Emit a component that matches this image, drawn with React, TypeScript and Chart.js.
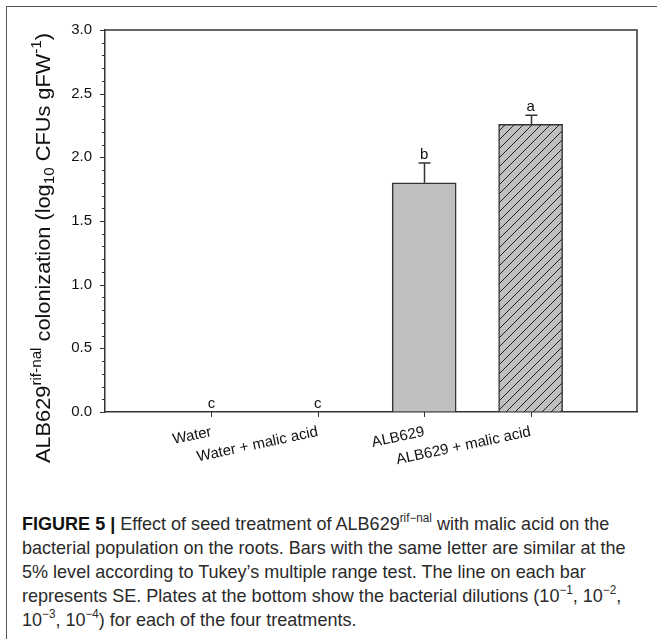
import React, { useEffect, useRef } from 'react';
import { Chart, registerables } from 'chart.js';

Chart.register(...registerables);

// ---- data ----
const categories = ['Water', 'Water + malic acid', 'ALB629', 'ALB629 + malic acid'];
const means = [0, 0, 1.8, 2.26];
const errors = [0, 0, 0.155, 0.07];
const letters = ['c', 'c', 'b', 'a'];
const hatched = [false, false, false, true];
const yMin = 0;
const yMax = 3;
const yMinorStep = 0.1;
const yMajorStep = 0.5;
const titleParts = [
  { t: 'ALB629', k: 'n' },
  { t: 'rif-nal', k: 'sup' },
  { t: ' colonization (log', k: 'n' },
  { t: '10', k: 'sub' },
  { t: ' CFUs gFW', k: 'n' },
  { t: '-1', k: 'sup' },
  { t: ')', k: 'n' },
];

// ---- style ----
const AXIS = '#333';
const TEXT = '#111';
const BAR_FILL = '#c0c0c0';
const FONT = '"Liberation Sans", Arial, sans-serif';
const CW = 657;
const CH = 500;
const TITLE_START = 463;
const TITLE_END = 33;

const isMajor = (v: number) => Math.abs(v / yMajorStep - Math.round(v / yMajorStep)) < 1e-6;

function makeHatch(): CanvasPattern | string {
  const s = 9;
  const c = document.createElement('canvas');
  c.width = s;
  c.height = s;
  const g = c.getContext('2d');
  if (!g) return BAR_FILL;
  g.fillStyle = BAR_FILL;
  g.fillRect(0, 0, s, s);
  g.strokeStyle = '#222';
  g.lineWidth = 1;
  g.beginPath();
  g.moveTo(0, s);
  g.lineTo(s, 0);
  g.moveTo(-1, 1);
  g.lineTo(1, -1);
  g.moveTo(s - 1, s + 1);
  g.lineTo(s + 1, s - 1);
  g.stroke();
  const p = g.createPattern(c, 'repeat');
  return p || BAR_FILL;
}

const partFont = (k: string) => (k !== 'n' ? '14px ' : '20px ') + FONT;

const decorPlugin = {
  id: 'decor',
  afterDraw(chart: any) {
    const { ctx, chartArea: a, scales } = chart;
    const xs = scales.x;
    const ys = scales.y;
    ctx.save();
    // frame top & right
    ctx.strokeStyle = AXIS;
    ctx.lineWidth = 1.5;
    ctx.beginPath();
    ctx.moveTo(a.left, a.top);
    ctx.lineTo(a.right, a.top);
    ctx.lineTo(a.right, a.bottom);
    ctx.stroke();

    // y ticks (major / minor)
    ctx.lineWidth = 1;
    ys.ticks.forEach((t: any) => {
      const len = isMajor(t.value) ? 5 : 3;
      const py = Math.round(ys.getPixelForValue(t.value)) + 0.5;
      ctx.beginPath();
      ctx.moveTo(a.left - len, py);
      ctx.lineTo(a.left, py);
      ctx.stroke();
    });
    // x ticks
    xs.ticks.forEach((t: any) => {
      const px = Math.round(xs.getPixelForValue(t.value)) + 0.5;
      ctx.beginPath();
      ctx.moveTo(px, a.bottom);
      ctx.lineTo(px, a.bottom + 5);
      ctx.stroke();
    });

    // error bars and letters
    const meta = chart.getDatasetMeta(0);
    ctx.font = '15px ' + FONT;
    ctx.fillStyle = TEXT;
    ctx.textAlign = 'center';
    ctx.textBaseline = 'alphabetic';
    meta.data.forEach((bar: any, i: number) => {
      const top = ys.getPixelForValue(means[i] + errors[i]);
      if (errors[i] > 0) {
        const bx = Math.round(bar.x) + 0.5;
        ctx.strokeStyle = AXIS;
        ctx.lineWidth = 1.5;
        ctx.beginPath();
        ctx.moveTo(bx, bar.y);
        ctx.lineTo(bx, top);
        ctx.moveTo(bx - 6, top);
        ctx.lineTo(bx + 6, top);
        ctx.stroke();
      }
      ctx.fillText(letters[i], bar.x, top - 4);
    });

    // y axis title with super/subscripts, fitted to its span
    let total = 0;
    titleParts.forEach((p) => {
      ctx.font = partFont(p.k);
      total += ctx.measureText(p.t).width;
    });
    ctx.save();
    ctx.translate(50, TITLE_START);
    ctx.rotate(-Math.PI / 2);
    ctx.scale((TITLE_START - TITLE_END) / total, 1);
    ctx.textAlign = 'left';
    let cx = 0;
    titleParts.forEach((p) => {
      ctx.font = partFont(p.k);
      const dy = p.k === 'sup' ? -9 : p.k === 'sub' ? 4 : 0;
      ctx.fillText(p.t, cx, dy);
      cx += ctx.measureText(p.t).width;
    });
    ctx.restore();

    ctx.restore();
  },
};

export default function App() {
  const ref = useRef<HTMLCanvasElement>(null);

  useEffect(() => {
    if (!ref.current) return;
    const hatch = makeHatch();
    const chart = new Chart(ref.current, {
      type: 'bar',
      data: {
        datasets: [
          {
            data: means.map((v, i) => ({ x: i + 1, y: v })),
            backgroundColor: hatched.map((h) => (h ? hatch : BAR_FILL)) as any,
            borderColor: AXIS,
            borderWidth: 1.5,
            borderSkipped: 'bottom',
            barThickness: 64,
          },
        ],
      },
      options: {
        responsive: false,
        animation: false,
        devicePixelRatio: 1,
        layout: { padding: { top: 30, right: 20, left: 0, bottom: 0 } },
        plugins: { legend: { display: false }, tooltip: { enabled: false } },
        scales: {
          x: {
            type: 'linear',
            offset: false,
            min: 0,
            max: categories.length + 1,
            afterBuildTicks: (s: any) => {
              s.ticks = categories.map((_, i) => ({ value: i + 1 }));
            },
            afterFit: (s: any) => {
              s.height = CH - 412;
            },
            ticks: {
              autoSkip: false,
              minRotation: 12,
              maxRotation: 12,
              padding: 11,
              color: TEXT,
              font: { family: FONT, size: 15 },
              callback: (v: any) => categories[Number(v) - 1] ?? '',
            },
            grid: { display: true, offset: false, drawOnChartArea: false, drawTicks: false },
            border: { display: true, color: AXIS, width: 1.5 },
          },
          y: {
            min: yMin,
            max: yMax,
            afterFit: (s: any) => {
              s.width = 105;
            },
            ticks: {
              stepSize: yMinorStep,
              autoSkip: false,
              padding: 13,
              color: TEXT,
              font: { family: FONT, size: 15 },
              callback: (v: any) => (isMajor(Number(v)) ? Number(v).toFixed(1) : ''),
            },
            grid: { display: true, drawOnChartArea: false, drawTicks: false },
            border: { display: true, color: AXIS, width: 1.5 },
          },
        },
      },
      plugins: [decorPlugin],
    });
    return () => chart.destroy();
  }, []);

  const sup = { fontSize: '12px', position: 'relative' as const, top: '-0.65em', lineHeight: 0 };

  return (
    <div style={{ position: 'absolute', left: 0, top: 0, width: 657, height: 639, overflow: 'hidden', background: '#fff' }}>
      <div style={{ position: 'absolute', left: 6, top: 6, width: 800, height: 800, borderLeft: '1.5px solid #555', borderTop: '1.5px solid #555' }} />
      <canvas ref={ref} width={CW} height={CH} style={{ position: 'absolute', left: 0, top: 0, width: CW, height: CH }} />
      <div
        style={{
          position: 'absolute',
          left: 22,
          top: 512,
          fontFamily: '"Liberation Sans", Arial, sans-serif',
          fontSize: 18.5,
          lineHeight: '24px',
          color: '#2a2a2a',
          whiteSpace: 'nowrap',
          transform: 'scaleX(0.975)',
          transformOrigin: '0 0',
        }}
      >
        <div>
          <b style={{ color: '#111' }}>FIGURE 5 |</b> Effect of seed treatment of ALB629<span style={sup}>rif−nal</span> with malic acid on the
        </div>
        <div>bacterial population on the roots. Bars with the same letter are similar at the</div>
        <div>5% level according to Tukey’s multiple range test. The line on each bar</div>
        <div>
          represents SE. Plates at the bottom show the bacterial dilutions (10<span style={sup}>−1</span>, 10<span style={sup}>−2</span>,
        </div>
        <div>
          10<span style={sup}>−3</span>, 10<span style={sup}>−4</span>) for each of the four treatments.
        </div>
      </div>
    </div>
  );
}
